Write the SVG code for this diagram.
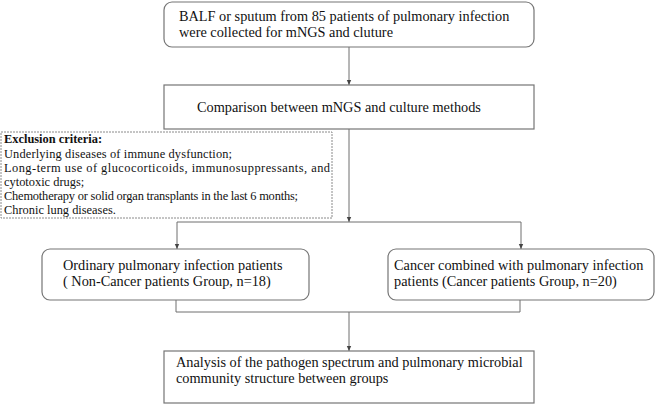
<svg xmlns="http://www.w3.org/2000/svg" width="656" height="406" viewBox="0 0 656 406">
<style>
.box{fill:#fff;stroke:#757575;stroke-width:1.2}
.ex{fill:#fff;stroke:#8a8a8a;stroke-width:1;stroke-dasharray:2 1}
.t{font-family:"Liberation Serif","Times New Roman",serif;font-size:14.3px;fill:#111}
.e{font-family:"Liberation Serif","Times New Roman",serif;font-size:12.4px;fill:#111}
.c{fill:none;stroke:#6e6e6e;stroke-width:1}
</style>
<defs>
<marker id="ah" markerWidth="6" markerHeight="6" refX="5" refY="3" orient="auto" markerUnits="userSpaceOnUse">
<path d="M0,0.8 L5,3 L0,5.2 Z" fill="#444"/>
</marker>
</defs>
<rect width="656" height="406" fill="#fff"/>
<g id="connectors">
<path class="c" d="M349,47 V85" marker-end="url(#ah)"/>
<path class="c" d="M349,129 V222" marker-end="url(#ah)"/>
<path class="c" d="M177,222 H521"/>
<path class="c" d="M177,222 V249" marker-end="url(#ah)"/>
<path class="c" d="M521,222 V249" marker-end="url(#ah)"/>
<path class="c" d="M176,300 V312 H520 V300"/>
<path class="c" d="M349,312 V351" marker-end="url(#ah)"/>
</g>
<g id="n1">
<rect class="box" x="164" y="2" width="370" height="45" rx="8"/>
<text class="t" x="179" y="21">BALF or sputum from 85 patients of pulmonary infection</text>
<text class="t" x="179" y="36.5">were collected for mNGS and cluture</text>
</g>
<g id="n2">
<rect class="box" x="164" y="85" width="370" height="44"/>
<text class="t" x="197" y="112">Comparison between mNGS and culture methods</text>
</g>
<g id="exclusion">
<rect class="ex" x="1" y="132" width="331" height="86"/>
<text class="e" x="4" y="143" font-weight="bold">Exclusion criteria:</text>
<text class="e" x="4" y="157.5" textLength="228" lengthAdjust="spacing">Underlying diseases of immune dysfunction;</text>
<text class="e" x="4" y="172" textLength="326" lengthAdjust="spacing">Long-term use of glucocorticoids, immunosuppressants, and</text>
<text class="e" x="4" y="186">cytotoxic drugs;</text>
<text class="e" x="4" y="200" textLength="294" lengthAdjust="spacing">Chemotherapy or solid organ transplants in the last 6 months;</text>
<text class="e" x="4" y="214">Chronic lung diseases.</text>
</g>
<g id="n3">
<rect class="box" x="42" y="249" width="267" height="51" rx="8"/>
<text class="t" x="63" y="270">Ordinary pulmonary infection patients</text>
<text class="t" x="63" y="286">( Non-Cancer patients Group, n=18)</text>
</g>
<g id="n4">
<rect class="box" x="388" y="249" width="266" height="51" rx="8"/>
<text class="t" x="394" y="270">Cancer combined with pulmonary infection</text>
<text class="t" x="394" y="286">patients (Cancer patients Group, n=20)</text>
</g>
<g id="n5">
<rect class="box" x="164" y="351" width="370" height="52"/>
<text class="t" x="176" y="367">Analysis of the pathogen spectrum and pulmonary microbial</text>
<text class="t" x="176" y="383">community structure between groups</text>
</g>
</svg>
